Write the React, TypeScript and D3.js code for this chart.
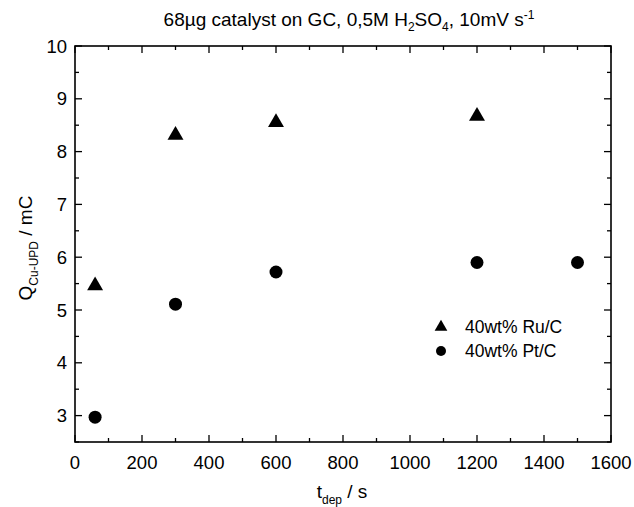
import React from "react";
import * as d3 from "d3";

const ruTimes = [60, 300, 600, 1200];
const ruCharge = [5.48, 8.33, 8.57, 8.69];
const ptTimes = [60, 300, 600, 1200, 1500];
const ptCharge = [2.97, 5.11, 5.72, 5.9, 5.9];
const xTicks = [0, 200, 400, 600, 800, 1000, 1200, 1400, 1600];
const yTicks = [3, 4, 5, 6, 7, 8, 9, 10];
const seriesNames = ["40wt% Ru/C", "40wt% Pt/C"];

const W = 634, H = 507;
const L = 75, R = 611, T = 46, B = 442;
const FONT = "Liberation Sans, Arial, sans-serif";

export default function App() {
  const x = d3.scaleLinear().domain([0, 1600]).range([L, R]);
  const y = d3.scaleLinear().domain([2.5, 10]).range([B, T]);
  const xMinor = d3.range(0, 1601, 100);
  const yMinor = d3.range(2.5, 10.01, 0.5);
  const tri = d3.symbol().type(d3.symbolTriangle).size(110)();
  const triSmall = d3.symbol().type(d3.symbolTriangle).size(70)();
  return (
    <svg width={W} height={H} style={{ position: "absolute", left: 0, top: 0, background: "#fff" }} fontFamily={FONT}>
      <rect x={0} y={0} width={W} height={H} fill="#fff" />
      {xMinor.map((v) => {
        const major = v % 200 === 0;
        const len = major ? 7 : 4;
        return (
          <g key={"xt" + v} stroke="#000" strokeWidth={1.3}>
            <line x1={x(v)} x2={x(v)} y1={B} y2={B - len} />
            <line x1={x(v)} x2={x(v)} y1={T} y2={T + len} />
          </g>
        );
      })}
      {yMinor.map((v) => {
        const major = Math.abs(v - Math.round(v)) < 1e-6;
        const len = major ? 7 : 4;
        return (
          <g key={"yt" + v} stroke="#000" strokeWidth={1.3}>
            <line x1={L} x2={L + len} y1={y(v)} y2={y(v)} />
            <line x1={R} x2={R - len} y1={y(v)} y2={y(v)} />
          </g>
        );
      })}
      <rect x={L} y={T} width={R - L} height={B - T} fill="none" stroke="#000" strokeWidth={1.6} />
      {xTicks.map((v) => (
        <text key={"xl" + v} x={x(v)} y={B + 27} textAnchor="middle" fontSize={18.5}>{v}</text>
      ))}
      {yTicks.map((v) => (
        <text key={"yl" + v} x={L - 8} y={y(v) + 6.5} textAnchor="end" fontSize={18.5}>{v}</text>
      ))}
      <text x={342} y={498} textAnchor="middle" fontSize={19}>
        t<tspan fontSize={12} dy={6}>dep</tspan><tspan dy={-6}> / s</tspan>
      </text>
      <text transform={`translate(32,${(T + B) / 2 + 4}) rotate(-90)`} textAnchor="middle" fontSize={19}>
        Q<tspan fontSize={12} dy={6}>Cu-UPD</tspan><tspan dy={-6}> / mC</tspan>
      </text>
      <text x={349} y={26} textAnchor="middle" fontSize={19}>
        68µg catalyst on GC, 0,5M H<tspan fontSize={12} dy={5}>2</tspan><tspan dy={-5}>SO</tspan><tspan fontSize={12} dy={5}>4</tspan><tspan dy={-5}>, 10mV s</tspan><tspan fontSize={12} dy={-7}>-1</tspan>
      </text>
      {ruTimes.map((t, i) => (
        <path key={"ru" + i} d={tri} transform={`translate(${x(t)},${y(ruCharge[i]) + 1})`} fill="#000" />
      ))}
      {ptTimes.map((t, i) => (
        <circle key={"pt" + i} cx={x(t)} cy={y(ptCharge[i])} r={6.5} fill="#000" />
      ))}
      <path d={triSmall} transform="translate(441,327)" fill="#000" />
      <text x={465} y={333} fontSize={17.5}>{seriesNames[0]}</text>
      <circle cx={441} cy={351} r={5} fill="#000" />
      <text x={465} y={357} fontSize={17.5}>{seriesNames[1]}</text>
    </svg>
  );
}
